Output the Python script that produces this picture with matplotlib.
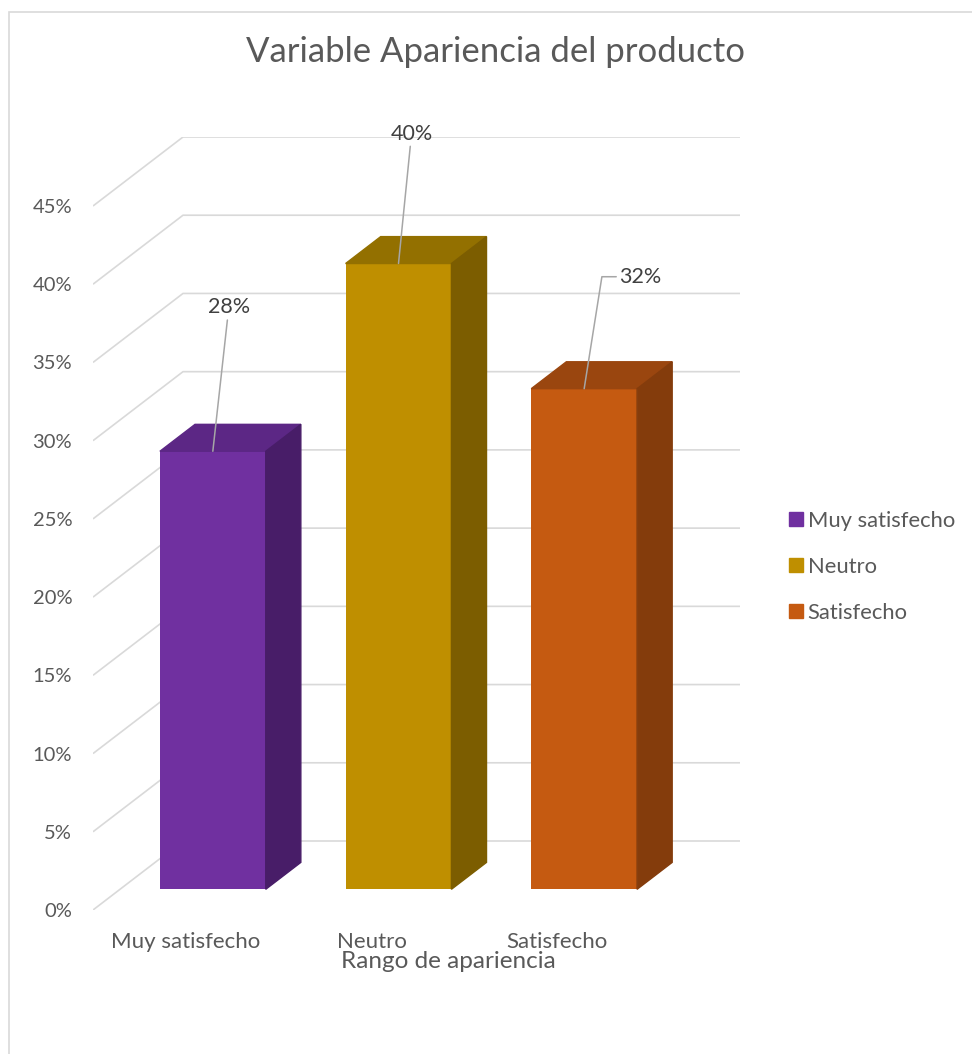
import matplotlib
matplotlib.use('Agg')
import matplotlib.pyplot as plt
from matplotlib.patches import Polygon, Rectangle
from matplotlib.lines import Line2D

plt.rcParams['font.family'] = ['Lato', 'DejaVu Sans']

categories = ['Muy satisfecho', 'Neutro', 'Satisfecho']
values = [28, 40, 32]
y_ticks = [0, 5, 10, 15, 20, 25, 30, 35, 40, 45]

front_colors = ['#7030A0', '#BF8F00', '#C55A11']
top_colors = ['#5C2785', '#937000', '#9A460F']
side_colors = ['#481D68', '#7C5D00', '#843C0C']

# oblique projection of the depth axis (full depth of the floor)
DX, DY = 0.4847, 4.41
bar_w = 0.57
d_front, d_bar = 0.30, 0.39
grid_c = '#d9d9d9'
txt_c = '#595959'

W, H = 972, 1054
fig = plt.figure(figsize=(W / 100, H / 100), dpi=100)
ax = fig.add_axes([93 / W, (H - 910) / H, (740 - 93) / W, (910 - 137) / H])
ax.set_xlim(0, 3 + DX)
ax.set_ylim(0, 45 + DY)
for s in ax.spines.values():
    s.set_visible(False)

# side wall and back wall gridlines
for v in y_ticks:
    ax.plot([0, DX, 3 + DX], [v, v + DY, v + DY], color=grid_c, lw=1.2,
            zorder=1, solid_capstyle='butt')

x_front = [i + 0.5 + d_front * DX for i in range(len(values))]
bottom = d_front * DY
ax.bar(x_front, values, width=bar_w, bottom=bottom, color=front_colors,
       zorder=3)
for xc, v, tc, sc in zip(x_front, values, top_colors, side_colors):
    xl, xr = xc - bar_w / 2, xc + bar_w / 2
    ddx, ddy = d_bar * DX, d_bar * DY
    top = v + bottom
    ax.add_patch(Polygon([(xl, top), (xr, top), (xr + ddx, top + ddy),
                          (xl + ddx, top + ddy)], closed=True, color=tc,
                         zorder=3))
    ax.add_patch(Polygon([(xr, bottom), (xr, top), (xr + ddx, top + ddy),
                          (xr + ddx, bottom + ddy)], closed=True, color=sc,
                         zorder=3))

# data labels with leader lines
label_offsets = [(11.5, 103.7), (9.4, 93.6), (40.3, 80.6)]
label_conn = ['arc3', 'arc3', 'angle,angleA=0,angleB=81,rad=0']
for xc, v, off, cs in zip(x_front, values, label_offsets, label_conn):
    ax.annotate(f'{v}%', xy=(xc, v + bottom), xytext=off,
                textcoords='offset points', ha='center', va='center',
                fontsize=15.5, color='#404040', zorder=5,
                arrowprops=dict(arrowstyle='-', color='#a6a6a6', lw=1.1,
                                connectionstyle=cs, shrinkA=0, shrinkB=0))

ax.set_yticks(y_ticks)
ax.set_yticklabels([f'{v}%' for v in y_ticks])
ax.set_xticks([0.5, 1.5, 2.5])
ax.set_xticklabels(categories)
ax.tick_params(axis='y', length=0, pad=15, labelsize=14.5, labelcolor=txt_c)
ax.tick_params(axis='x', length=0, pad=16, labelsize=16, labelcolor=txt_c)
ax.set_xlabel('Rango de apariencia', fontsize=17.5, color=txt_c)
ax.xaxis.set_label_coords(0.549, -0.053)

fig.text(495 / W, 1 - 52 / H, 'Variable Apariencia del producto',
         ha='center', va='center', fontsize=25, color=txt_c)

handles = [Line2D([], [], ls='none', marker='s', markersize=10,
                  markerfacecolor=c, markeredgecolor=c) for c in front_colors]
fig.legend(handles, categories, loc='center left',
           bbox_to_anchor=(788 / W, 1 - 567 / H), frameon=False,
           fontsize=15.8, labelcolor=txt_c, handlelength=0.7,
           handletextpad=0.2, labelspacing=1.18, borderpad=0,
           borderaxespad=0)

# chart area border
fig.patches.append(Rectangle((9 / W, -0.1), 1.2, 1.1 - 12 / H,
                             transform=fig.transFigure, fill=False,
                             edgecolor=grid_c, lw=1.2))

fig.savefig('out.png', dpi=100)
